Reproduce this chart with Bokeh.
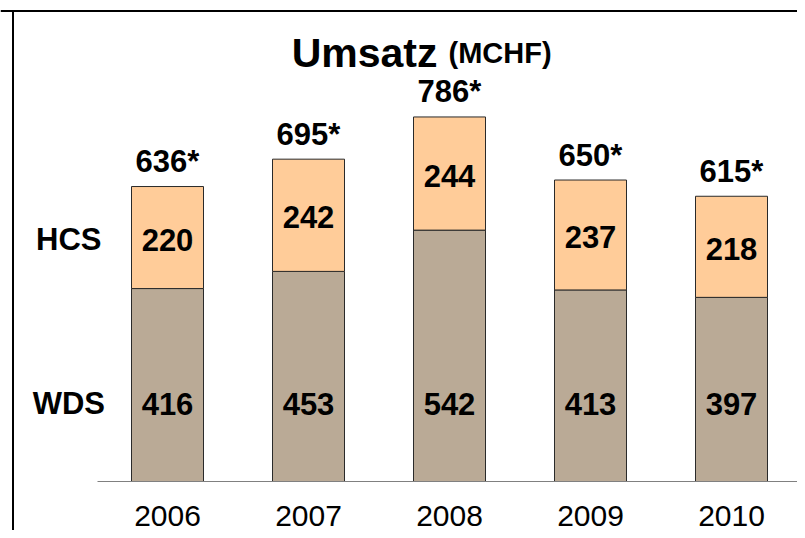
from bokeh.plotting import figure
from bokeh.models import ColumnDataSource, Range1d, Span, Label
from bokeh.embed import file_html
from bokeh.resources import INLINE
from bokeh.core.properties import value

# ---- data ----
years = ["2006", "2007", "2008", "2009", "2010"]
wds = [416, 453, 542, 413, 397]
hcs = [220, 242, 244, 237, 218]
series_names = ["WDS", "HCS"]
title_main = "Umsatz"
title_unit = "(MCHF)"

W, H = 797, 530
px_per_cat = 141.0
first_center_px = 167.0
base_px = 481.0           # baseline, from top
px_per_unit = 0.4638

x0 = -first_center_px / px_per_cat
x1 = x0 + W / px_per_cat
y1 = base_px / px_per_unit
y0 = -(H - base_px) / px_per_unit

xs = list(range(len(years)))
totals = [a + b for a, b in zip(wds, hcs)]
src = ColumnDataSource(dict(
    x=xs,
    wds=wds,
    hcs=hcs,
    total=totals,
    hcs_mid=[a + b / 2 for a, b in zip(wds, hcs)],
    zero=[0] * len(xs),
    wds_lbl=[str(v) for v in wds],
    hcs_lbl=[str(v) for v in hcs],
    tot_lbl=[f"{t}*" for t in totals],
    year=years,
))

p = figure(width=W, height=H, x_range=Range1d(x0, x1), y_range=Range1d(y0, y1),
           output_backend="svg", toolbar_location=None,
           min_border=0, min_border_left=0, min_border_right=0,
           min_border_top=0, min_border_bottom=0)
p.axis.visible = False
p.grid.visible = False
p.outline_line_color = None
p.background_fill_color = "white"
p.border_fill_color = "white"

FONT = value("Liberation Sans")
bar_w = 72 / px_per_cat

p.vbar(x="x", bottom="zero", top="wds", width=bar_w, source=src,
       fill_color="#BAAA96", line_color="#2a2a2a", line_width=1)
p.vbar(x="x", bottom="wds", top="total", width=bar_w, source=src,
       fill_color="#FFCC99", line_color="#2a2a2a", line_width=1)

# baseline
base_left = x0 + 97 / px_per_cat
base_right = x0 + 801 / px_per_cat
p.segment(x0=[base_left], y0=[0], x1=[base_right], y1=[0], line_color="#808080", line_width=1.2)

# frame lines (left and top)
frame_left = x0 + 12.5 / px_per_cat
frame_top = y1 - 10.5 / px_per_unit
p.segment(x0=[frame_left], y0=[frame_top + 1 / px_per_unit], x1=[frame_left], y1=[y0],
          line_color="black", line_width=2)
p.add_layout(Span(location=frame_top, dimension="width", line_color="black", line_width=2))

# value labels
p.text(x="x", y="zero", text="wds_lbl", source=src, text_font=FONT, text_font_style="bold",
       text_font_size="31px", text_align="center", text_baseline="middle", y_offset=-78,
       text_color="black")
p.text(x="x", y="hcs_mid", text="hcs_lbl", source=src, text_font=FONT, text_font_style="bold",
       text_font_size="31px", text_align="center", text_baseline="middle", y_offset=2,
       text_color="black")
p.text(x="x", y="total", text="tot_lbl", source=src, text_font=FONT, text_font_style="bold",
       text_font_size="31px", text_align="center", text_baseline="middle", y_offset=-25,
       text_color="black")
p.text(x="x", y="zero", text="year", source=src, text_font=FONT,
       text_font_size="30px", text_align="center", text_baseline="middle", y_offset=34,
       text_color="black")

# row labels
p.text(x=[-0.7], y=[hcs[0] / 2 + wds[0]], text=[series_names[1]], text_font=FONT,
       text_font_style="bold", text_font_size="31px", text_align="center",
       text_baseline="middle", y_offset=2)
p.text(x=[-0.7], y=[0], text=[series_names[0]], text_font=FONT,
       text_font_style="bold", text_font_size="31px", text_align="center",
       text_baseline="middle", y_offset=-78)

# title
p.add_layout(Label(x=437, y=H - 52, x_units="screen", y_units="screen", text=title_main,
                   text_font="Liberation Sans", text_font_style="bold", text_font_size="41px",
                   text_align="right", text_baseline="alphabetic", text_color="black"))
p.add_layout(Label(x=448, y=H - 52, x_units="screen", y_units="screen", text=title_unit,
                   text_font="Liberation Sans", text_font_style="bold", text_font_size="29px",
                   text_align="left", text_baseline="alphabetic", text_color="black"))

open("out.html", "w").write(file_html(p, INLINE))
